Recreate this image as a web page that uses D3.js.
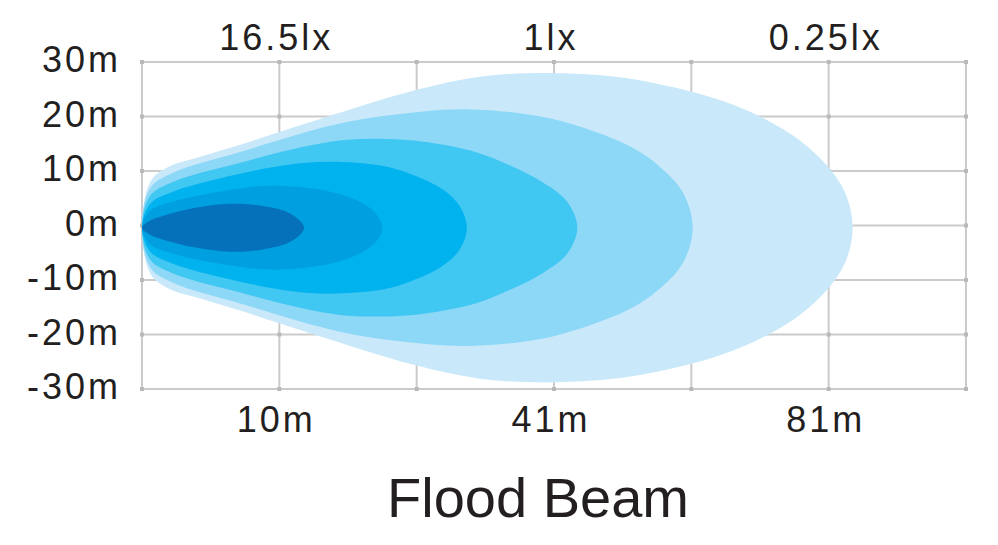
<!DOCTYPE html>
<html>
<head>
<meta charset="utf-8">
<script src="https://cdn.jsdelivr.net/npm/d3@7"></script>
<style>
  body { margin: 0; background: #ffffff; }
  svg { display: block; }
</style>
</head>
<body>
<div id="chart"></div>
<script>
// Grid and label data
var xGrid = [0, 20, 40, 60, 80, 100, 120];       // grid columns (m)
var yTicks = [30, 20, 10, 0, -10, -20, -30];     // lateral spread (m)
var yLabels = ["30m", "20m", "10m", "0m", "-10m", "-20m", "-30m"];
var markAt = [20, 60, 100];                       // where the lux / distance labels sit
var luxLabels = ["16.5lx", "1lx", "0.25lx"];
var distLabels = ["10m", "41m", "81m"];
var chartTitle = "Flood Beam";

// Beam zones, outer (faintest) to inner (brightest): [distance, half width] in metres
var zoneColours = ["#c9e9fa", "#8ed8f7", "#40c7f2", "#00b2ee", "#00a0e0", "#0471ba"];
var zoneTips = [103.5, 80.2, 63.4, 47.3, 35.0, 23.6];
var zone1 = [[1.2, 8.4], [3.6, 11.0], [8.5, 13.0], [14.3, 15.2], [20.1, 17.6], [30.3, 21.7], [40.0, 25.3],
             [49.2, 27.7], [58.7, 28.4], [69.6, 27.6], [79.9, 25.0], [84.9, 23.1], [90.0, 20.4], [95.8, 16.0],
             [99.9, 11.2], [102.4, 6.4]];
var zone2 = [[1.2, 7.3], [4.5, 10.1], [14.3, 13.9], [28.8, 19.1], [40.9, 21.3], [47.8, 21.7], [55.0, 21.0],
             [60.9, 19.6], [70.6, 15.2], [75.4, 11.2], [78.8, 6.4]];
var zone3 = [[1.2, 5.9], [4.5, 8.4], [14.3, 11.9], [23.0, 14.7], [28.8, 16.0], [33.2, 16.3], [37.6, 16.2],
             [41.5, 15.7], [48.8, 13.8], [53.6, 11.4], [58.4, 8.3], [61.9, 4.8]];
var zone4 = [[1.2, 4.4], [4.5, 6.6], [14.3, 9.9], [21.6, 11.6], [27.4, 12.1], [34.7, 11.4], [39.0, 9.9],
             [43.8, 7.0], [46.3, 3.9]];
var zone5 = [[1.2, 3.1], [4.5, 4.8], [14.3, 7.2], [19.4, 7.7], [25.9, 7.0], [29.9, 5.7], [32.5, 4.2], [34.2, 2.4]];
var zone6 = [[1.2, 1.3], [3.1, 2.2], [8.0, 3.7], [12.8, 4.4], [17.6, 4.0], [21.6, 2.6]];
var zones = [zone1, zone2, zone3, zone4, zone5, zone6];
var beamCentre = -0.4; // the beam sits a touch below the 0m line

var width = 998, height = 545;
var font = "'Liberation Sans', Arial, Helvetica, sans-serif";
var ink = "#231f20";

var x = d3.scaleLinear().domain([0, 120]).range([142, 966]);
var y = d3.scaleLinear().domain([-30, 30]).range([389, 62]);

var svg = d3.select("#chart").append("svg")
    .attr("width", width).attr("height", height);

//Grid lines first, the beam covers them
var grid = svg.append("g").attr("stroke", "#cbcbcb").attr("stroke-width", 2);
grid.selectAll("line.v").data(xGrid).enter().append("line").attr("class", "v")
    .attr("x1", function (d) { return x(d); }).attr("x2", function (d) { return x(d); })
    .attr("y1", y(30)).attr("y2", y(-30));
grid.selectAll("line.h").data(yTicks).enter().append("line").attr("class", "h")
    .attr("x1", x(0)).attr("x2", x(120))
    .attr("y1", function (d) { return y(d); }).attr("y2", function (d) { return y(d); });

//Little knots where the grid lines cross
var knots = [];
xGrid.forEach(function (gx) { yTicks.forEach(function (gy) { knots.push([gx, gy]); }); });
svg.append("g").selectAll("rect").data(knots).enter().append("rect")
    .attr("x", function (d) { return x(d[0]) - 2; }).attr("y", function (d) { return y(d[1]) - 2; })
    .attr("width", 4).attr("height", 4).attr("fill", "#b9b9b9");

//Beam zones: go out along the top edge, round the tip and back along the bottom
var outline = d3.line()
    .x(function (d) { return x(d[0]); })
    .y(function (d) { return y(d[1] + beamCentre); })
    .curve(d3.curveCatmullRomClosed.alpha(0.5));

svg.append("g").selectAll("path").data(zones).enter().append("path")
    .attr("d", function (pts, i) {
        var top = pts.map(function (p) { return [p[0], p[1]]; });
        var bottom = pts.slice().reverse().map(function (p) { return [p[0], -p[1]]; });
        return outline([[0, 0]].concat(top, [[zoneTips[i], 0]], bottom));
    })
    .attr("fill", function (d, i) { return zoneColours[i]; });

//Axis labels
svg.append("g").selectAll("text").data(yTicks).enter().append("text")
    .text(function (d, i) { return yLabels[i]; })
    .attr("x", 121).attr("y", function (d) { return y(d) + 10; })
    .attr("text-anchor", "end");

svg.append("g").selectAll("text").data(markAt).enter().append("text")
    .text(function (d, i) { return luxLabels[i]; })
    .attr("x", function (d) { return x(d) - 3; }).attr("y", 50)
    .attr("text-anchor", "middle");

svg.append("g").selectAll("text").data(markAt).enter().append("text")
    .text(function (d, i) { return distLabels[i]; })
    .attr("x", function (d) { return x(d) - 3; }).attr("y", 432)
    .attr("text-anchor", "middle");

svg.selectAll("text")
    .attr("fill", ink).style("font-family", font)
    .style("font-size", "36px").style("letter-spacing", "3px");

svg.append("text").text(chartTitle)
    .attr("x", 538).attr("y", 517).attr("text-anchor", "middle")
    .attr("fill", ink).style("font-family", font).style("font-size", "56px");
</script>
</body>
</html>
